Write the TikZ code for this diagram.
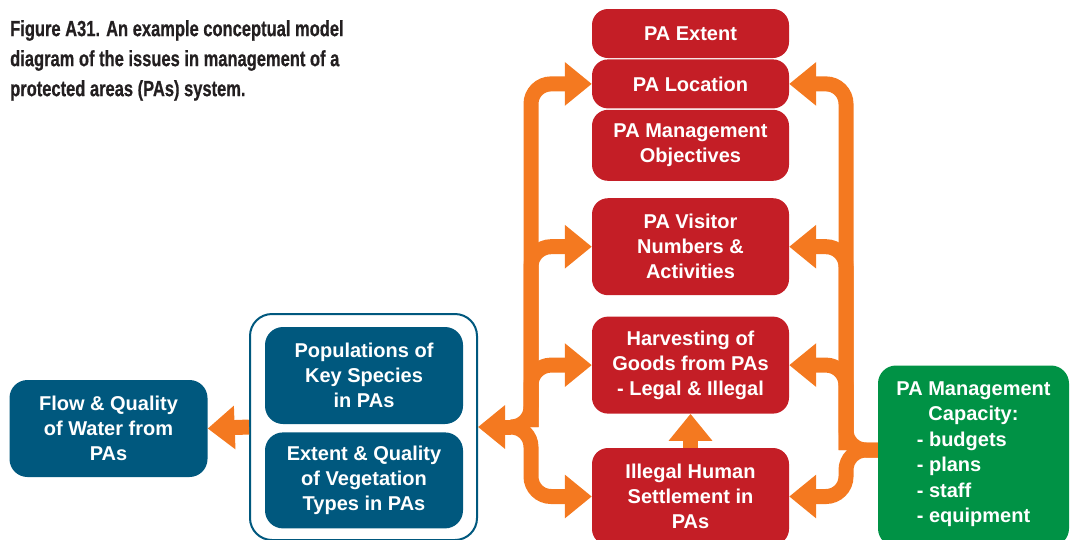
\documentclass[tikz,border=0pt]{standalone}
\usepackage{fontspec}
\usetikzlibrary{arrows.meta,positioning}
\newfontfamily\cajafuente{Liberation Sans}
\newfontfamily\titulofuente[FakeStretch=0.75, FakeBold=0.6]{Liberation Sans Bold}
\definecolor{RojoPA}{RGB}{196,30,38}
\definecolor{AzulPA}{RGB}{0,88,126}
\definecolor{VerdePA}{RGB}{0,146,69}
\definecolor{NaranjaPA}{RGB}{244,121,32}
\definecolor{TextoOscuro}{RGB}{35,31,32}
\tikzset{
  redbox/.style={fill=RojoPA, rounded corners=16pt, text=white, align=center,
    minimum width=197pt, minimum height=#1, inner sep=0pt,
    font=\cajafuente\bfseries\fontsize{20}{25}\selectfont},
  redbox/.default=97pt,
  bluebox/.style={fill=AzulPA, rounded corners=18pt, text=white, align=center,
    minimum width=198pt, minimum height=#1, inner sep=0pt,
    font=\cajafuente\bfseries\fontsize{20}{25}\selectfont},
  bluebox/.default=96pt,
  greenbox/.style={fill=VerdePA, rounded corners=18pt, text=white, align=center,
    minimum width=191pt, minimum height=181pt, inner sep=0pt,
    font=\cajafuente\bfseries\fontsize{20}{25.5}\selectfont},
  contbox/.style={draw=AzulPA, line width=2pt, rounded corners=22pt, fill=white,
    minimum width=227pt, minimum height=226pt, inner sep=0pt},
  flowarr/.style={-{Triangle[length=27pt, width=42pt]}, line width=15pt,
    color=NaranjaPA, rounded corners=20pt},
}

\begin{document}
\begin{tikzpicture}[x=1pt, y=-1pt]
  \useasboundingbox (0,0) rectangle (1070,539);
  \clip (0,0) rectangle (1070,539);

  \node[anchor=north west, align=left, inner sep=0pt, text=TextoOscuro,
    font=\titulofuente\fontsize{22}{30}\selectfont] (titulo) at (10,20)
    {Figure A31. An example conceptual model\\diagram of the issues in management of a\\protected areas (PAs) system.};

  % ---- columna de presiones (rojo) ----
  \node[redbox=49pt] (ext) at (690.5,33.5) {PA Extent};
  \node[redbox=49pt, below=1pt of ext] (loc) {PA Location};
  \node[redbox=71pt, below=1pt of loc] (obj) {PA Management\\Objectives};
  \node[redbox, below=17pt of obj] (vis) {PA Visitor\\Numbers \&\\Activities};
  \node[redbox, below=21pt of vis] (har) {Harvesting of\\Goods from PAs\\- Legal \& Illegal};
  \node[redbox, below=34pt of har] (set) {Illegal Human\\Settlement in\\PAs};

  % ---- estado y servicios (azul) ----
  \node[contbox] (cont) at (363.5,427) {};
  \node[bluebox=97pt] (pop) at (364,375.5) {Populations of\\Key Species\\in PAs};
  \node[bluebox, below=8pt of pop] (veg) {Extent \& Quality\\of Vegetation\\Types in PAs};
  \node[bluebox=97pt] (flow) at (108.5,428.5) {Flow \& Quality\\of Water from\\PAs};

  % ---- capacidad de manejo (verde) ----
  \node[greenbox] (cap) at (973.5,456) {PA Management\\Capacity:\\\begin{tabular}[t]{@{}l@{}}- budgets\\- plans\\- staff\\- equipment\end{tabular}};

  % ---- flechas ----
  \coordinate (nudoI) at (531,427);
  \coordinate (horqI) at (511,427);
  \coordinate (nudoD) at (846,450);
  \draw[flowarr] (horqI) -- (nudoI) |- (loc.west);
  \draw[flowarr] (horqI) -- (nudoI) |- (set.west);
  \draw[flowarr] (nudoI) |- (vis.west);
  \draw[flowarr] (nudoI) |- (har.west);
  \draw[flowarr] (horqI) -- (cont.east);
  \draw[flowarr] (cap.west |- nudoD) -- (nudoD) |- (loc.east);
  \draw[flowarr] (cap.west |- nudoD) -- (nudoD) |- (set.east);
  \draw[flowarr] (nudoD) |- (vis.east);
  \draw[flowarr] (nudoD) |- (har.east);
  \draw[flowarr] (set.north) -- (har.south);
  \draw[flowarr] (cont.west) -- (flow.east);
\end{tikzpicture}
\end{document}
